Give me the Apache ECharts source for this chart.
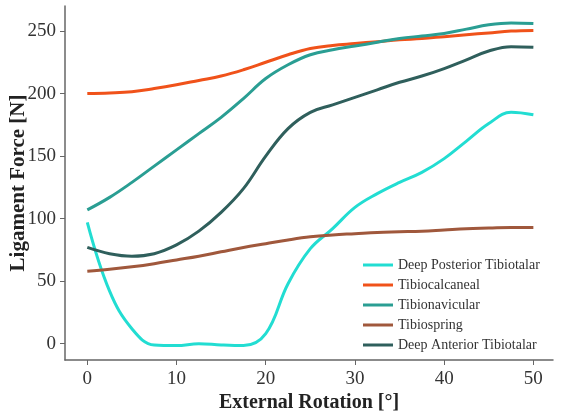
<!DOCTYPE html>
<html>
<head>
<meta charset="utf-8">
<script src="https://cdn.jsdelivr.net/npm/echarts@6/dist/echarts.min.js"></script>
<style>
  html, body { margin: 0; padding: 0; background: #fff; }
  #chart { width: 562px; height: 419px; }
</style>
</head>
<body>
<div id="chart"></div>
<script>
// external rotation angles (deg)
const angles = [0, 2.5, 5, 7.5, 10, 12.5, 15, 17.5, 20, 22.5, 25, 27.5, 30, 32.5, 35, 37.5, 40, 42.5, 45, 47.5, 50];

// ligament forces (N)
const deepPosterior = [97, 42, 12, -1, -1.5, 0, -1, -1.5, 8, 48, 76, 92, 109, 120, 129, 137, 148, 162, 176, 185, 183];
const tibiocalcaneal = [200, 200.5, 201.5, 204, 207, 210.5, 214, 219, 225, 231, 236, 238.5, 240, 241.5, 243, 244, 245.5, 247, 248.5, 250, 250.5];
const tibionavicular = [107, 117, 129, 142, 155, 168, 181, 196, 212, 223, 231, 235, 238, 241, 244, 246, 248, 251.5, 255, 256.5, 256];
const tibiospring = [58, 59.5, 61.5, 64, 67, 70, 73.5, 77, 80, 83, 85.5, 87, 88, 89, 89.5, 90, 91, 92, 92.5, 93, 93];
const deepAnterior = [77, 72, 70, 72, 79, 90, 105, 124, 150, 172, 185, 191, 197, 203, 209, 214, 220, 227, 234, 237.5, 237];

const xTicks = [0, 10, 20, 30, 40, 50];
const yTicks = [0, 50, 100, 150, 200, 250];

const names = ["Deep Posterior Tibiotalar", "Tibiocalcaneal", "Tibionavicular", "Tibiospring", "Deep Anterior Tibiotalar"];
const colors = ["#22DDD2", "#F0521A", "#2A9E93", "#A0583C", "#2F5F5C"];
const values = [deepPosterior, tibiocalcaneal, tibionavicular, tibiospring, deepAnterior];

const serif = "Liberation Serif";

function pairs(ys) {
  return angles.map((a, i) => [a, ys[i]]);
}

let chart = echarts.init(document.getElementById("chart"));
let option = {
  color: colors,
  animation: false,
  grid: { left: 65, top: 6, right: 9, bottom: 59, outerBoundsMode: "none" },
  legend: {
    orient: "vertical",
    left: 358,
    top: 253,
    itemWidth: 30,
    itemHeight: 3,
    itemGap: 6,
    icon: "rect",
    textStyle: { fontFamily: serif, fontSize: 14, color: "#333" },
    data: names,
  },
  xAxis: {
    type: "value",
    min: -2.5,
    max: 52.2,
    name: "External Rotation [°]",
    nameLocation: "middle",
    nameGap: 33,
    nameMoveOverlap: false,
    nameTextStyle: { fontFamily: serif, fontSize: 20, fontWeight: "bold", color: "#222" },
    splitLine: { show: false },
    axisLine: { onZero: false, lineStyle: { color: "#666", width: 1.5 } },
    axisTick: { show: true, length: 5, customValues: xTicks, lineStyle: { color: "#666" } },
    axisLabel: { customValues: xTicks, fontFamily: serif, fontSize: 19, color: "#333", margin: 10 },
  },
  yAxis: {
    type: "value",
    min: -13,
    max: 270,
    name: "Ligament Force [N]",
    nameLocation: "middle",
    nameGap: 36,
    nameMoveOverlap: false,
    nameTextStyle: { fontFamily: serif, fontSize: 21, fontWeight: "bold", color: "#222" },
    splitLine: { show: false },
    axisLine: { show: true, onZero: false, lineStyle: { color: "#666", width: 1.5 } },
    axisTick: { show: true, length: 5, customValues: yTicks, lineStyle: { color: "#666" } },
    axisLabel: { customValues: yTicks, fontFamily: serif, fontSize: 19, color: "#333", margin: 9 },
  },
  series: names.map((n, i) => ({
    name: n,
    type: "line",
    smooth: 0.4,
    showSymbol: false,
    lineStyle: { width: 3, color: colors[i] },
    data: pairs(values[i]),
  })),
};

option && chart.setOption(option);
</script>
</body>
</html>
